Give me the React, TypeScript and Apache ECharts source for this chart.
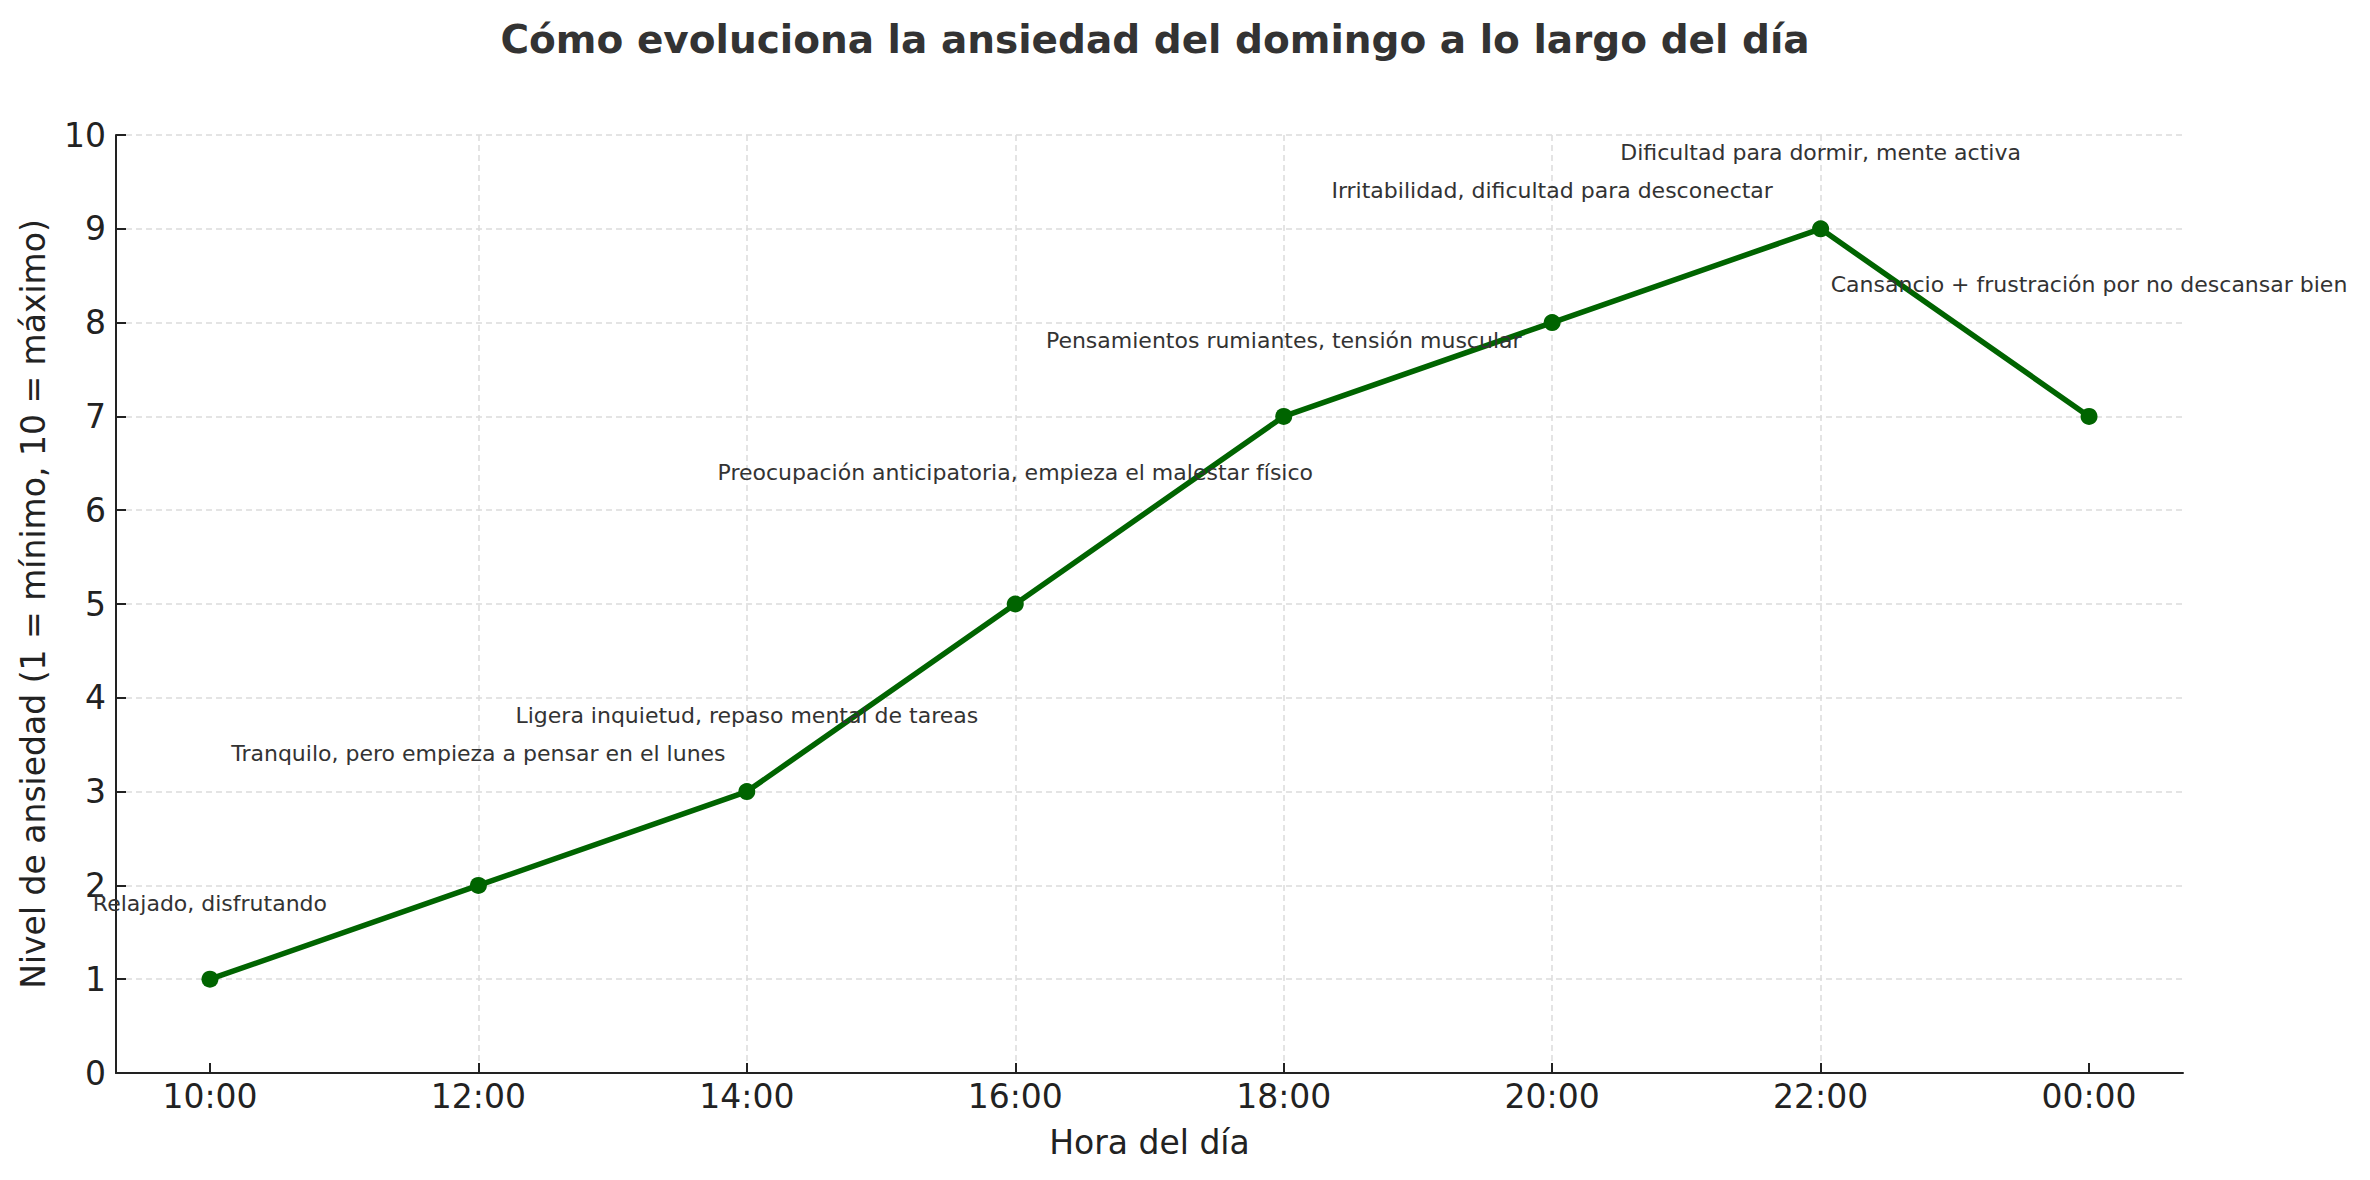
import React, { useEffect, useRef } from "react";
import * as echarts from "echarts";

const hours = ["10:00", "12:00", "14:00", "16:00", "18:00", "20:00", "22:00", "00:00"];
const levels = [1, 2, 3, 5, 7, 8, 9, 7];
const notes = [
  "Relajado, disfrutando",
  "Tranquilo, pero empieza a pensar en el lunes",
  "Ligera inquietud, repaso mental de tareas",
  "Preocupación anticipatoria, empieza el malestar físico",
  "Pensamientos rumiantes, tensión muscular",
  "Irritabilidad, dificultad para desconectar",
  "Dificultad para dormir, mente activa",
  "Cansancio + frustración por no descansar bien",
];
const yTicks = [0, 1, 2, 3, 4, 5, 6, 7, 8, 9, 10];

const titleText = "Cómo evoluciona la ansiedad del domingo a lo largo del día";
const xName = "Hora del día";
const yName = "Nivel de ansiedad (1 = mínimo, 10 = máximo)";

const FONT = "DejaVu Sans";
const GRID_COLOR = "#dcdcdc";
const AXIS_COLOR = "#222222";

export default function App() {
  const ref = useRef<HTMLDivElement>(null);

  useEffect(() => {
    document.body.style.margin = "0";
    if (!ref.current) return;
    const chart = echarts.init(ref.current, null, { renderer: "svg" });
    const idx = hours.map((_, i) => i);
    const option: any = {
      animation: false,
      backgroundColor: "#ffffff",
      textStyle: { fontFamily: FONT },
      title: {
        text: titleText,
        left: 1150,
        top: 15,
        textAlign: "center",
        textStyle: {
          fontFamily: FONT,
          fontSize: 39,
          fontWeight: "bold",
          color: "#333333",
        },
      },
      grid: { left: 116, right: 187, top: 135, bottom: 107, containLabel: false },
      xAxis: {
        type: "value",
        min: -0.35,
        max: 7.35,
        minInterval: 1,
        maxInterval: 1,
        name: xName,
        nameLocation: "middle",
        nameGap: 53,
        nameTextStyle: { fontFamily: FONT, fontSize: 33, color: AXIS_COLOR },
        axisLine: { show: true, onZero: false, lineStyle: { color: AXIS_COLOR, width: 2 } },
        axisTick: {
          show: true,
          inside: true,
          length: 10,
          customValues: idx,
          lineStyle: { color: AXIS_COLOR, width: 2 },
        },
        axisLabel: {
          show: true,
          customValues: idx,
          margin: 7,
          fontFamily: FONT,
          fontSize: 33,
          color: AXIS_COLOR,
          formatter: (v: number) =>
            Number.isInteger(v) && v >= 0 && v < hours.length ? hours[v] : "",
        },
        splitLine: {
          show: true,
          showMinLine: false,
          showMaxLine: false,
          lineStyle: { color: GRID_COLOR, width: 1.5, type: [6, 4] },
        },
      },
      yAxis: {
        type: "value",
        min: yTicks[0],
        max: yTicks[yTicks.length - 1],
        interval: 1,
        name: yName,
        nameLocation: "middle",
        nameGap: 66,
        nameTextStyle: { fontFamily: FONT, fontSize: 33, color: AXIS_COLOR },
        axisLine: { show: true, onZero: false, lineStyle: { color: AXIS_COLOR, width: 2 } },
        axisTick: {
          show: true,
          inside: true,
          length: 10,
          lineStyle: { color: AXIS_COLOR, width: 2 },
        },
        axisLabel: {
          margin: 10,
          fontFamily: FONT,
          fontSize: 33,
          color: AXIS_COLOR,
        },
        splitLine: {
          show: true,
          lineStyle: { color: GRID_COLOR, width: 1.5, type: [6, 4] },
        },
      },
      series: [
        {
          type: "line",
          data: levels.map((v, i) => ({
            value: [i, v],
            label: {
              show: true,
              position: "inside",
              offset: [0, i % 2 === 0 ? -76 : -132],
              formatter: notes[i],
            },
          })),
          symbol: "circle",
          symbolSize: 17,
          lineStyle: { color: "#006400", width: 5.5 },
          itemStyle: { color: "#006400" },
          label: {
            show: true,
            fontFamily: FONT,
            fontSize: 22,
            color: "#333333",
          },
          z: 3,
        },
      ],
    };
    chart.setOption(option);
    return () => chart.dispose();
  }, []);

  return (
    <div
      ref={ref}
      style={{ position: "absolute", left: 0, top: 0, width: 2370, height: 1180 }}
    />
  );
}
